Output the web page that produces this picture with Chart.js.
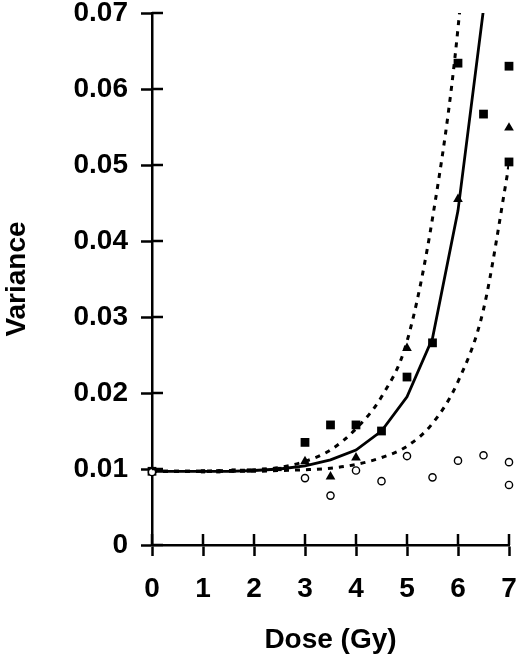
<!DOCTYPE html>
<html>
<head>
<meta charset="utf-8">
<script src="https://cdn.jsdelivr.net/npm/chart.js@4/dist/chart.umd.min.js"></script>
<style>
  html, body { margin: 0; padding: 0; background: #fff; }
  canvas { display: block; }
</style>
</head>
<body>
<canvas id="grafico" width="520" height="662"></canvas>
<script>
// Valores
const xTickLabels = ['0', '1', '2', '3', '4', '5', '6', '7'];
const yTickLabels = ['0', '0.01', '0.02', '0.03', '0.04', '0.05', '0.06', '0.07'];

// quadrados cheios
const quadDose = [0, 1.0, 1.3, 1.6, 1.9, 2.2, 2.5, 3, 3.5, 4, 4.5, 5, 5.5, 6, 6.5, 7, 7];
const quadVar = [0.0097, 0.0097, 0.0097, 0.0098, 0.0098, 0.0099, 0.0100, 0.0135, 0.0158, 0.0158, 0.0150, 0.0221, 0.0266, 0.0634, 0.0567, 0.0630, 0.0504];

// triângulos cheios
const triDose = [3, 3.5, 4, 5, 6, 7];
const triVar = [0.0110, 0.0090, 0.0115, 0.0259, 0.0455, 0.0549];

// círculos vazios
const circDose = [0, 3, 3.5, 4, 4.5, 5, 5.5, 6, 6.5, 7, 7];
const circVar = [0.0096, 0.0088, 0.0065, 0.0098, 0.0084, 0.0117, 0.0089, 0.0111, 0.0118, 0.0109, 0.0079];

// curvas ajustadas
const curvaDose = [0, 0.5, 1, 1.5, 2, 2.5, 3, 3.5, 4, 4.5, 5, 5.5, 6, 6.5, 7];
const curvaMedia = [0.0097, 0.0097, 0.0097, 0.0097, 0.0098, 0.0100, 0.0104, 0.0112, 0.0125, 0.0150, 0.0195, 0.0272, 0.0440, 0.0705, 0.115];
const curvaSup = [0.0097, 0.0097, 0.0097, 0.0098, 0.0099, 0.0102, 0.0110, 0.0125, 0.0153, 0.0195, 0.0268, 0.0430, 0.0680, 0.110, 0.18];
const curvaInf = [0.0097, 0.0097, 0.0097, 0.0097, 0.0097, 0.0098, 0.0099, 0.0101, 0.0106, 0.0115, 0.0130, 0.0160, 0.0215, 0.0310, 0.0500];

function pares(xs, ys) {
    return xs.map((x, i) => ({ x: x, y: ys[i] }));
}

const fonte = { family: 'Liberation Sans, Arial, sans-serif', size: 28, weight: 'bold' };

// tracinhos dos eixos que atravessam para dentro da área do gráfico
const marcasInternas = {
    id: 'marcasInternas',
    afterDraw(chart) {
        const c = chart.ctx;
        const area = chart.chartArea;
        const sx = chart.scales.x;
        const sy = chart.scales.y;
        c.save();
        c.strokeStyle = '#000';
        c.lineWidth = 2.5;
        c.beginPath();
        sx.ticks.forEach(t => {
            const px = sx.getPixelForValue(t.value);
            c.moveTo(px, area.bottom);
            c.lineTo(px, area.bottom - 11);
        });
        sy.ticks.forEach(t => {
            const py = sy.getPixelForValue(t.value);
            c.moveTo(area.left, py);
            c.lineTo(area.left + 11, py);
        });
        c.stroke();
        c.restore();
    }
};

const ctx = document.getElementById('grafico').getContext('2d');
const grafico = new Chart(ctx, {
    type: 'scatter',
    data: {
        datasets: [
            {
                label: 'círculos',
                data: pares(circDose, circVar),
                pointStyle: 'circle',
                pointRadius: 3.6,
                pointBorderWidth: 1.4,
                pointBackgroundColor: '#fff',
                pointBorderColor: '#000',
                clip: false
            },
            {
                label: 'triângulos',
                data: pares(triDose, triVar),
                pointStyle: 'triangle',
                pointRadius: 5.6,
                pointBorderWidth: 0,
                pointBackgroundColor: '#000',
                pointBorderColor: '#000',
                clip: false
            },
            {
                label: 'quadrados',
                data: pares(quadDose, quadVar),
                pointStyle: 'rect',
                pointRadius: c => (c.raw && c.raw.x > 0 && c.raw.x < 2.9) ? 3 : 6.2,
                pointBorderWidth: 0,
                pointBackgroundColor: '#000',
                pointBorderColor: '#000',
                clip: false
            },
            {
                label: 'média',
                data: pares(curvaDose, curvaMedia),
                showLine: true,
                pointRadius: 0,
                borderColor: '#000',
                borderWidth: 2.8,
                tension: 0,
                clip: 0
            },
            {
                label: 'superior',
                data: pares(curvaDose, curvaSup),
                showLine: true,
                pointRadius: 0,
                borderColor: '#000',
                borderWidth: 3,
                borderDash: [5, 6],
                cubicInterpolationMode: 'monotone',
                clip: 0
            },
            {
                label: 'inferior',
                data: pares(curvaDose, curvaInf),
                showLine: true,
                pointRadius: 0,
                borderColor: '#000',
                borderWidth: 3,
                borderDash: [5, 6],
                cubicInterpolationMode: 'monotone',
                clip: 0
            }
        ]
    },
    options: {
        responsive: false,
        animation: false,
        layout: { padding: { top: 13, right: 11, left: 0, bottom: 0 } },
        plugins: {
            legend: { display: false },
            tooltip: { enabled: false }
        },
        scales: {
            x: {
                type: 'linear',
                min: 0,
                max: 7,
                border: { display: true, color: '#000', width: 2.5 },
                grid: { drawOnChartArea: false, drawTicks: true, tickLength: 11, tickWidth: 2.5, tickColor: '#000' },
                ticks: {
                    stepSize: 1,
                    color: '#000',
                    font: fonte,
                    padding: 16,
                    maxRotation: 0,
                    callback: (v, i) => xTickLabels[i]
                },
                title: { display: true, text: 'Dose (Gy)', color: '#000', font: fonte, padding: { top: 4, bottom: 5 } },
                afterFit: s => { s.height = 117; s.paddingLeft = 0; s.paddingRight = 0; }
            },
            y: {
                type: 'linear',
                min: 0,
                max: 0.07,
                border: { display: true, color: '#000', width: 2.5 },
                grid: { drawOnChartArea: false, drawTicks: true, tickLength: 11, tickWidth: 2.5, tickColor: '#000' },
                ticks: {
                    stepSize: 0.01,
                    color: '#000',
                    font: fonte,
                    padding: 13,
                    callback: (v, i) => yTickLabels[i]
                },
                title: { display: true, text: 'Variance', color: '#000', font: fonte, padding: { top: 0, bottom: 4 } },
                afterFit: s => { s.width = 152; s.paddingTop = 0; s.paddingBottom = 0; }
            }
        }
    },
    plugins: [marcasInternas]
});
</script>
</body>
</html>
